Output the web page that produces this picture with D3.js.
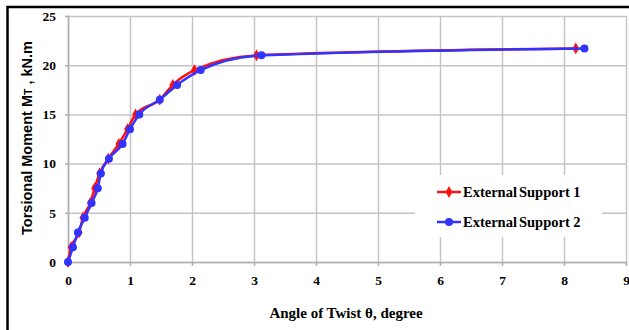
<!DOCTYPE html>
<html>
<head>
<meta charset="utf-8">
<script src="https://cdn.jsdelivr.net/npm/d3@7"></script>
<style>
  body { margin: 0; background: #fff; }
  svg { display: block; }
</style>
</head>
<body>
<div id="chart"></div>
<script>
const xTicks = [0, 1, 2, 3, 4, 5, 6, 7, 8, 9];
const yTicks = [0, 5, 10, 15, 20, 25];

const support1Angle = [0, 0.05, 0.18, 0.24, 0.36, 0.43, 0.51, 0.65, 0.82, 0.96, 1.09, 1.48, 1.69, 2.04, 3.04, 8.19];
const support1Moment = [0, 1.5, 3, 4.5, 6, 7.5, 9, 10.5, 12, 13.5, 15, 16.5, 18, 19.5, 21, 21.7];

const support2Angle = [0, 0.08, 0.16, 0.27, 0.38, 0.48, 0.53, 0.66, 0.88, 1.0, 1.15, 1.48, 1.76, 2.14, 3.12, 8.33];
const support2Moment = [0, 1.5, 3, 4.5, 6, 7.5, 9, 10.5, 12, 13.5, 15, 16.5, 18, 19.5, 21, 21.7];

const seriesNames = ["External Support 1", "External Support 2"];

const serif = "'Liberation Serif', 'Times New Roman', serif";

function drawChart(width, height) {
  const margin = { top: 16, right: 3, bottom: 68, left: 68 };
  const innerWidth = width - margin.left - margin.right;
  const innerHeight = height - margin.top - margin.bottom;

  const root = d3.select("#chart")
    .append("svg")
    .attr("width", width)
    .attr("height", height);

  // outer frame (only top and left show in the picture)
  root.append("rect")
    .attr("x", 7.5)
    .attr("y", 7)
    .attr("width", width + 20)
    .attr("height", height + 20)
    .attr("fill", "none")
    .attr("stroke", "#000")
    .attr("stroke-width", 2.5);

  const svg = root.append("g")
    .attr("transform", `translate(${margin.left},${margin.top})`);

  const xScale = d3.scaleLinear().domain([0, 9]).range([0, innerWidth]);
  const yScale = d3.scaleLinear().domain([0, 25]).range([innerHeight, 0]);

  // grid
  svg.append("g")
    .attr("class", "grid")
    .attr("transform", `translate(0,${innerHeight})`)
    .call(d3.axisBottom(xScale).tickValues(xTicks).tickSize(-innerHeight).tickFormat(""))
    .call(g => g.select(".domain").remove())
    .selectAll(".tick line")
    .attr("stroke", "#c4c4c4")
    .attr("stroke-width", 1.5);

  svg.append("g")
    .attr("class", "grid")
    .call(d3.axisLeft(yScale).tickValues(yTicks).tickSize(-innerWidth).tickFormat(""))
    .call(g => g.select(".domain").remove())
    .selectAll(".tick line")
    .attr("stroke", "#c4c4c4")
    .attr("stroke-width", 1.5);

  // axes
  const xAxis = svg.append("g")
    .attr("transform", `translate(0,${innerHeight})`)
    .call(d3.axisBottom(xScale).tickValues(xTicks).tickSize(4).tickPadding(9));
  const yAxis = svg.append("g")
    .call(d3.axisLeft(yScale).tickValues(yTicks).tickSize(3).tickPadding(9));

  [xAxis, yAxis].forEach(ax => {
    ax.attr("font-family", serif);
    ax.select(".domain").attr("stroke", "#b0b0b0").attr("stroke-width", 1.5);
    ax.selectAll(".tick line").attr("stroke", "#b0b0b0").attr("stroke-width", 1.5);
    ax.selectAll(".tick text")
      .attr("fill", "#000")
      .style("font-family", serif)
      .style("font-weight", "bold")
      .style("font-size", "13.5px");
  });

  const line = d3.line()
    .x(d => xScale(d[0]))
    .y(d => yScale(d[1]))
    .curve(d3.curveMonotoneX);

  const s1 = support1Angle.map((a, i) => [a, support1Moment[i]]);
  const s2 = support2Angle.map((a, i) => [a, support2Moment[i]]);

  svg.append("path")
    .datum(s1)
    .attr("d", line)
    .attr("fill", "none")
    .attr("stroke", "#ff1010")
    .attr("stroke-width", 2.5);

  svg.append("g")
    .selectAll("path")
    .data(s1)
    .enter()
    .append("path")
    .attr("transform", d => `translate(${xScale(d[0])},${yScale(d[1])})`)
    .attr("d", d3.symbol(d3.symbolDiamond, 40))
    .attr("fill", "#ff1010");

  svg.append("path")
    .datum(s2)
    .attr("d", line)
    .attr("fill", "none")
    .attr("stroke", "#3333ff")
    .attr("stroke-width", 2.5);

  svg.append("g")
    .selectAll("circle")
    .data(s2)
    .enter()
    .append("circle")
    .attr("cx", d => xScale(d[0]))
    .attr("cy", d => yScale(d[1]))
    .attr("r", 4)
    .attr("fill", "#3333ff");

  // legend
  const legend = root.append("g").attr("transform", "translate(415,175)");
  legend.append("rect")
    .attr("width", 187)
    .attr("height", 62)
    .attr("fill", "#fff");

  const colors = ["#ff1010", "#3333ff"];
  seriesNames.forEach((name, i) => {
    const y = 17 + i * 30;
    legend.append("line")
      .attr("x1", 22).attr("x2", 46)
      .attr("y1", y).attr("y2", y)
      .attr("stroke", colors[i])
      .attr("stroke-width", 2.5);
    if (i === 0) {
      legend.append("path")
        .attr("transform", `translate(34,${y})`)
        .attr("d", d3.symbol(d3.symbolDiamond, 40))
        .attr("fill", colors[i]);
    } else {
      legend.append("circle")
        .attr("cx", 34).attr("cy", y).attr("r", 4)
        .attr("fill", colors[i]);
    }
    const words = name.split(" ");
    const t = legend.append("text")
      .attr("x", 48)
      .attr("y", y)
      .attr("dy", "0.35em")
      .style("font-family", serif)
      .style("font-weight", "bold")
      .style("font-size", "14.5px");
    t.append("tspan").text(words[0]);
    t.append("tspan").attr("dx", 2).text(words.slice(1).join(" "));
  });

  // axis titles
  root.append("text")
    .attr("x", margin.left + innerWidth / 2 - 1)
    .attr("y", 318)
    .attr("text-anchor", "middle")
    .text("Angle of Twist θ, degree")
    .style("font-family", serif)
    .style("font-weight", "bold")
    .style("font-size", "15px");

  const yTitle = root.append("text")
    .attr("transform", "translate(32,138) rotate(-90)")
    .attr("text-anchor", "middle")
    .style("font-family", "'Liberation Sans', Arial, sans-serif")
    .style("font-weight", "bold")
    .style("font-size", "14.5px");
  yTitle.append("tspan").text("Torsional Moment M");
  yTitle.append("tspan").text("T").style("font-size", "10.5px");
  yTitle.append("tspan").text(" , kN.m");
}

drawChart(629, 330);
</script>
</body>
</html>
